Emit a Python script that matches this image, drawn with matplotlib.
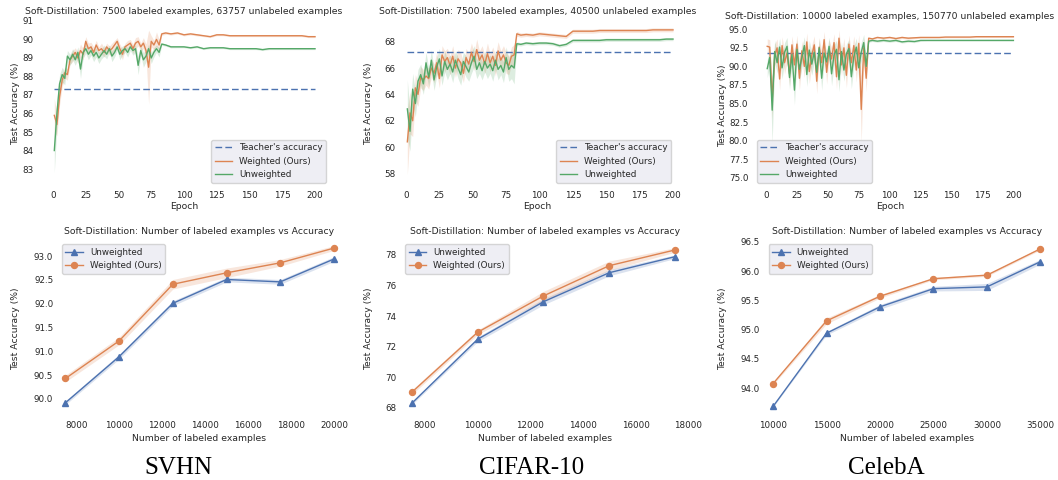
import matplotlib
matplotlib.use("Agg")
import matplotlib.pyplot as plt
import numpy as np

W, H = 1058, 480
plt.rcParams.update({
    "font.family": ["DejaVu Sans"],
    "text.color": ".15",
    "axes.labelcolor": ".15",
    "xtick.color": ".15",
    "ytick.color": ".15",
})

# ------------------------------------------------------------------ data
epochs = list(range(1, 82, 2)) + [83, 86] + list(range(90, 201, 5))
epoch_ticks = [0, 25, 50, 75, 100, 125, 150, 175, 200]

svhn_teacher = 87.3
svhn_weighted = [
    85.9, 85.4, 86.9, 87.8, 88.2, 88.1, 88.9, 89.1, 89.3, 89.0,
    89.4, 89.2, 89.9, 89.5, 89.6, 89.3, 89.7, 89.4, 89.5, 89.3,
    89.6, 89.4, 89.5, 89.7, 89.9, 89.5, 89.2, 89.6, 89.7, 89.8,
    89.5, 89.8, 89.9, 89.6, 89.8, 89.4, 88.5, 89.9, 89.7, 90.0,
    89.7,
    90.3, 90.35, 90.3, 90.35, 90.25, 90.3, 90.25, 90.2, 90.15, 90.25,
    90.25, 90.2, 90.2, 90.2, 90.2, 90.2, 90.2, 90.2, 90.2, 90.2,
    90.2, 90.2, 90.2, 90.15, 90.15]
svhn_weighted_sd = [
    0.9, 0.6, 0.45, 0.35, 0.3, 0.3, 0.25, 0.3, 0.25, 0.3,
    0.35, 0.3, 0.25, 0.3, 0.25, 0.3, 0.25, 0.2, 0.3, 0.25,
    0.2, 0.25, 0.3, 0.25, 0.2, 0.25, 0.3, 0.2, 0.25, 0.2,
    0.25, 0.3, 0.25, 0.2, 0.3, 0.35, 2.0, 0.3, 0.25, 0.4,
    0.3,
    0.08, 0.07, 0.06, 0.06, 0.06, 0.06, 0.06, 0.05, 0.05, 0.05,
    0.05, 0.05, 0.05, 0.05, 0.05, 0.05, 0.05, 0.05, 0.05, 0.05,
    0.05, 0.05, 0.05, 0.05, 0.05]
svhn_unweighted = [
    84.0, 86.0, 87.6, 88.1, 87.9, 89.1, 88.9, 89.2, 88.9, 89.3,
    88.4, 89.3, 89.5, 89.2, 89.4, 89.1, 89.3, 89.0, 89.2, 89.4,
    89.2, 89.5, 89.1, 89.3, 89.6, 89.2, 89.4, 89.5, 89.3, 89.6,
    89.4, 89.5, 88.6, 89.4, 88.9, 89.1, 89.5, 89.0, 89.3, 89.5,
    89.3,
    89.75, 89.7, 89.6, 89.6, 89.6, 89.55, 89.6, 89.5, 89.55, 89.55,
    89.55, 89.5, 89.5, 89.5, 89.5, 89.5, 89.45, 89.5, 89.5, 89.5,
    89.5, 89.5, 89.5, 89.5, 89.5]
svhn_unweighted_sd = [
    1.2, 0.7, 0.5, 0.4, 0.35, 0.3, 0.3, 0.3, 0.3, 0.3,
    0.5, 0.3, 0.25, 0.3, 0.25, 0.3, 0.25, 0.3, 0.25, 0.3,
    0.25, 0.2, 0.3, 0.25, 0.2, 0.3, 0.25, 0.2, 0.25, 0.2,
    0.25, 0.2, 0.5, 0.25, 0.4, 0.3, 0.25, 0.3, 0.25, 0.2,
    0.25,
    0.07, 0.06, 0.06, 0.05, 0.05, 0.05, 0.05, 0.05, 0.05, 0.05,
    0.05, 0.05, 0.05, 0.05, 0.05, 0.05, 0.05, 0.05, 0.05, 0.05,
    0.05, 0.05, 0.05, 0.05, 0.05]

cifar_teacher = 67.2
cifar_weighted = [
    60.4, 62.6, 62.0, 64.5, 64.0, 65.3, 65.1, 65.4, 65.2, 66.0,
    65.6, 66.4, 65.2, 67.0, 66.5, 66.8, 66.2, 66.9, 66.0, 66.7,
    66.4, 65.6, 66.8, 66.3, 67.2, 66.5, 67.4, 66.6, 67.0, 66.3,
    67.1, 66.4, 66.9, 66.2, 67.3, 66.6, 67.0, 66.4, 66.2, 66.9,
    67.0,
    68.6, 68.5, 68.55, 68.5, 68.6, 68.55, 68.5, 68.45, 68.4, 68.8,
    68.8, 68.8, 68.8, 68.85, 68.85, 68.85, 68.85, 68.85, 68.85, 68.85,
    68.85, 68.9, 68.9, 68.9, 68.9]
cifar_weighted_sd = [
    2.5, 1.6, 1.2, 1.0, 0.9, 0.8, 0.8, 0.7, 0.8, 0.7,
    0.7, 0.8, 0.7, 0.7, 0.8, 0.7, 0.7, 0.8, 0.7, 0.7,
    0.8, 0.7, 0.7, 0.8, 0.7, 0.7, 0.8, 0.7, 0.7, 0.7,
    0.8, 0.7, 0.7, 0.8, 0.7, 0.7, 0.7, 0.8, 0.7, 0.7,
    0.8,
    0.18, 0.16, 0.15, 0.15, 0.15, 0.15, 0.15, 0.15, 0.15, 0.15,
    0.15, 0.15, 0.15, 0.15, 0.15, 0.15, 0.15, 0.15, 0.15, 0.15,
    0.15, 0.15, 0.15, 0.15, 0.15]
cifar_unweighted = [
    62.9, 61.2, 64.4, 63.3, 65.0, 65.5, 64.8, 66.4, 65.3, 66.6,
    65.1, 66.1, 66.7, 65.4, 66.5, 65.9, 66.3, 65.7, 66.6, 66.0,
    65.5, 66.5, 66.1, 65.7, 66.4, 66.9, 65.9, 66.4, 65.8, 66.5,
    66.0, 66.3, 65.8, 66.6, 65.9, 66.2, 65.7, 66.8, 65.9, 66.2,
    66.0,
    67.85, 67.8, 67.9, 67.85, 67.9, 67.9, 67.85, 67.7, 67.8, 68.1,
    68.1, 68.1, 68.1, 68.1, 68.15, 68.15, 68.15, 68.15, 68.15, 68.15,
    68.15, 68.15, 68.15, 68.2, 68.2]
cifar_unweighted_sd = [
    2.2, 1.5, 1.2, 1.0, 0.9, 0.8, 0.8, 0.8, 0.7, 0.8,
    0.8, 0.7, 0.8, 0.7, 0.8, 0.8, 0.7, 0.8, 0.7, 0.8,
    0.8, 0.7, 0.8, 0.7, 0.8, 0.8, 0.7, 0.8, 0.7, 0.8,
    0.8, 0.7, 0.8, 0.7, 0.8, 0.7, 0.8, 0.8, 0.9, 1.0,
    1.2,
    0.13, 0.12, 0.12, 0.12, 0.12, 0.12, 0.12, 0.12, 0.12, 0.12,
    0.12, 0.12, 0.12, 0.12, 0.12, 0.12, 0.12, 0.12, 0.12, 0.12,
    0.12, 0.12, 0.12, 0.12, 0.12]

celeba_teacher = 91.75
celeba_weighted = [
    92.7, 92.6, 85.4, 91.5, 92.5, 88.3, 92.8, 90.5, 91.8, 89.0,
    92.9, 90.2, 93.0, 88.4, 92.1, 90.0, 93.3, 89.3, 91.5, 92.9,
    88.0, 92.6, 90.5, 93.6, 89.2, 92.3, 91.0, 93.2, 88.6, 93.8,
    90.2, 92.5, 88.8, 93.0, 90.5, 92.8, 89.5, 93.1, 84.2, 92.5,
    88.4,
    93.8, 93.7, 93.9, 93.8, 93.9, 93.75, 93.9, 93.8, 93.85, 93.9,
    93.9, 93.9, 93.9, 93.95, 93.95, 93.95, 93.95, 93.95, 94.0, 94.0,
    94.0, 94.0, 94.0, 94.0, 94.0]
celeba_weighted_sd = [
    1.0, 1.0, 2.5, 1.5, 1.2, 1.5, 1.2, 1.5, 1.3, 1.6,
    1.2, 1.5, 1.2, 1.6, 1.3, 1.5, 1.2, 1.6, 1.4, 1.2,
    1.7, 1.3, 1.5, 1.1, 1.6, 1.3, 1.5, 1.2, 1.7, 1.1,
    1.5, 1.3, 1.7, 1.2, 1.5, 1.3, 1.6, 1.2, 4.5, 1.3,
    1.8,
    0.15, 0.15, 0.15, 0.15, 0.15, 0.15, 0.15, 0.15, 0.12, 0.1,
    0.1, 0.1, 0.1, 0.1, 0.1, 0.1, 0.1, 0.1, 0.1, 0.1,
    0.1, 0.1, 0.1, 0.1, 0.1]
celeba_unweighted = [
    89.7, 91.2, 84.1, 92.0, 90.5, 92.6, 89.8, 91.9, 92.7, 88.5,
    91.6, 86.8, 92.3, 89.6, 91.2, 92.8, 88.9, 92.2, 90.3, 91.9,
    89.2, 92.5, 88.4, 91.8, 90.6, 92.7, 89.0, 91.5, 92.3, 88.2,
    92.0, 89.5, 91.7, 92.4, 88.6, 91.3, 92.6, 89.8, 91.9, 93.2,
    90.0,
    93.4, 93.5, 93.4, 93.5, 93.4, 93.5, 93.3, 93.4, 93.35, 93.5,
    93.5, 93.5, 93.5, 93.5, 93.5, 93.5, 93.5, 93.5, 93.5, 93.5,
    93.5, 93.5, 93.5, 93.5, 93.5]
celeba_unweighted_sd = [
    1.2, 1.2, 4.5, 1.5, 1.4, 1.2, 1.5, 1.3, 1.2, 1.6,
    1.4, 2.0, 1.3, 1.5, 1.4, 1.2, 1.6, 1.3, 1.5, 1.3,
    1.5, 1.2, 1.6, 1.3, 1.4, 1.2, 1.6, 1.4, 1.2, 1.6,
    1.3, 1.5, 1.3, 1.2, 1.6, 1.4, 1.2, 1.5, 1.3, 1.1,
    1.4,
    0.15, 0.15, 0.15, 0.15, 0.15, 0.15, 0.15, 0.15, 0.15, 0.12,
    0.08, 0.08, 0.08, 0.08, 0.08, 0.08, 0.08, 0.08, 0.08, 0.08,
    0.08, 0.08, 0.08, 0.08, 0.08]

# bottom row: accuracy vs number of labeled examples
svhn_n = [7500, 10000, 12500, 15000, 17500, 20000]
svhn_n_unweighted = [89.92, 90.89, 92.01, 92.51, 92.46, 92.94]
svhn_n_unweighted_sd = [0.04, 0.05, 0.05, 0.05, 0.05, 0.05]
svhn_n_weighted = [90.43, 91.22, 92.41, 92.65, 92.86, 93.17]
svhn_n_weighted_sd = [0.07, 0.08, 0.1, 0.1, 0.07, 0.05]

cifar_n = [7500, 10000, 12500, 15000, 17500]
cifar_n_unweighted = [68.29, 72.48, 74.94, 76.84, 77.89]
cifar_n_unweighted_sd = [0.1, 0.15, 0.2, 0.2, 0.12]
cifar_n_weighted = [69.01, 72.94, 75.32, 77.30, 78.33]
cifar_n_weighted_sd = [0.15, 0.15, 0.3, 0.3, 0.15]

celeba_n = [10000, 15000, 20000, 25000, 30000, 35000]
celeba_n_unweighted = [93.69, 94.94, 95.39, 95.70, 95.73, 96.16]
celeba_n_unweighted_sd = [0.01, 0.03, 0.04, 0.04, 0.06, 0.04]
celeba_n_weighted = [94.08, 95.15, 95.57, 95.87, 95.93, 96.38]
celeba_n_weighted_sd = [0.02, 0.05, 0.03, 0.02, 0.02, 0.02]

titles_top = ["Soft-Distillation: 7500 labeled examples, 63757 unlabeled examples",
              "Soft-Distillation: 7500 labeled examples, 40500 unlabeled examples",
              "Soft-Distillation: 10000 labeled examples, 150770 unlabeled examples"]
title_bottom = "Soft-Distillation: Number of labeled examples vs Accuracy"
dataset_names = ["SVHN", "CIFAR-10", "CelebA"]

BLUE, ORANGE, GREEN = "#4C72B0", "#DD8452", "#55A868"
FS_TICK, FS_LAB, FS_TITLE = 6.3, 6.7, 6.7

fig = plt.figure(figsize=(W / 100, H / 100), dpi=100)
fig.patch.set_facecolor("white")


def make_axes(left, right, top, bottom):
    ax = fig.add_axes([left / W, 1 - bottom / H, (right - left) / W, (bottom - top) / H])
    ax.set_facecolor("white")
    for s in ax.spines.values():
        s.set_visible(False)
    ax.grid(False)
    ax.tick_params(length=0, pad=3, labelsize=FS_TICK)
    return ax


def finish(ax, box, title, xlabel, ylabel_cx, xlabel_cy, title_pad):
    left, right, top, bottom = box
    ax.set_title(title, fontsize=FS_TITLE, pad=title_pad)
    ax.set_xlabel(xlabel, fontsize=FS_LAB)
    ax.set_ylabel("Test Accuracy (%)", fontsize=FS_LAB)
    ax.yaxis.set_label_coords((ylabel_cx + 5.2 - left) / (right - left), 0.5)
    ax.xaxis.set_label_coords(0.5, -(xlabel_cy - 5.0 - bottom) / (bottom - top))


def style_legend(leg):
    fr = leg.get_frame()
    fr.set_facecolor("#EAEAF2")
    fr.set_edgecolor("0.8")
    fr.set_alpha(0.8)


top_specs = [
    dict(box=(37.5, 330.5, 20, 187), xlim=(-11.83, 211.83), ylim=(82.03, 91.05),
         yticks=[83, 84, 85, 86, 87, 88, 89, 90, 91],
         w=svhn_weighted, wsd=svhn_weighted_sd, u=svhn_unweighted, usd=svhn_unweighted_sd,
         teacher=svhn_teacher, loc="lower right", ylx=15, tpad=4),
    dict(box=(399.2, 675.8, 20, 187), xlim=(-5.09, 202.1), ylim=(56.97, 69.65),
         yticks=[58, 60, 62, 64, 66, 68],
         w=cifar_weighted, wsd=cifar_weighted_sd, u=cifar_unweighted, usd=cifar_unweighted_sd,
         teacher=cifar_teacher, loc="lower right", ylx=367.7, tpad=4),
    dict(box=(752.5, 1027.5, 24, 187), xlim=(-10.91, 211.4), ylim=(73.75, 95.71),
         yticks=[75.0, 77.5, 80.0, 82.5, 85.0, 87.5, 90.0, 92.5, 95.0],
         w=celeba_weighted, wsd=celeba_weighted_sd, u=celeba_unweighted, usd=celeba_unweighted_sd,
         teacher=celeba_teacher, loc="lower left", ylx=721.7, tpad=3.6),
]

for spec, title in zip(top_specs, titles_top):
    ax = make_axes(*spec["box"])
    ep = np.array(epochs)
    w = np.array(spec["w"]); wsd = np.array(spec["wsd"])
    u = np.array(spec["u"]); usd = np.array(spec["usd"])
    ax.plot([ep[0], ep[-1]], [spec["teacher"], spec["teacher"]], color=BLUE, lw=1.0,
            dashes=(4.8, 2.3), label="Teacher's accuracy")
    ax.fill_between(ep, w - wsd, w + wsd, color=ORANGE, alpha=0.2, lw=0)
    ax.plot(ep, w, color=ORANGE, lw=1.0, label="Weighted (Ours)")
    ax.fill_between(ep, u - usd, u + usd, color=GREEN, alpha=0.2, lw=0)
    ax.plot(ep, u, color=GREEN, lw=1.0, label="Unweighted")
    ax.set_xlim(*spec["xlim"]); ax.set_ylim(*spec["ylim"])
    ax.set_xticks(epoch_ticks); ax.set_yticks(spec["yticks"])
    leg = ax.legend(loc=spec["loc"], fontsize=FS_TICK, fancybox=True)
    style_legend(leg)
    finish(ax, spec["box"], title, "Epoch", spec["ylx"], 207, spec["tpad"])

bottom_specs = [
    dict(box=(57.5, 340.9, 240, 417), xlim=(7129, 20323), ylim=(89.62, 93.34),
         xticks=[8000, 10000, 12000, 14000, 16000, 18000, 20000],
         yticks=[90.0, 90.5, 91.0, 91.5, 92.0, 92.5, 93.0],
         x=svhn_n, u=svhn_n_unweighted, usd=svhn_n_unweighted_sd,
         w=svhn_n_weighted, wsd=svhn_n_weighted_sd, ylx=15),
    dict(box=(400.9, 689.0, 240, 417), xlim=(7085, 18026), ylim=(67.39, 78.98),
         xticks=[8000, 10000, 12000, 14000, 16000, 18000],
         yticks=[68, 70, 72, 74, 76, 78],
         x=cifar_n, u=cifar_n_unweighted, usd=cifar_n_unweighted_sd,
         w=cifar_n_weighted, wsd=cifar_n_weighted_sd, ylx=367.7),
    dict(box=(764.2, 1049.2, 240, 417), xlim=(9170, 35823), ylim=(93.51, 96.53),
         xticks=[10000, 15000, 20000, 25000, 30000, 35000],
         yticks=[94.0, 94.5, 95.0, 95.5, 96.0, 96.5],
         x=celeba_n, u=celeba_n_unweighted, usd=celeba_n_unweighted_sd,
         w=celeba_n_weighted, wsd=celeba_n_weighted_sd, ylx=721.7),
]

for spec in bottom_specs:
    ax = make_axes(*spec["box"])
    x = np.array(spec["x"])
    u = np.array(spec["u"]); usd = np.array(spec["usd"])
    w = np.array(spec["w"]); wsd = np.array(spec["wsd"])
    ax.fill_between(x, u - usd, u + usd, color=BLUE, alpha=0.2, lw=0)
    ax.plot(x, u, color=BLUE, lw=1.0, marker="^", ms=4.3, label="Unweighted")
    ax.fill_between(x, w - wsd, w + wsd, color=ORANGE, alpha=0.2, lw=0)
    ax.plot(x, w, color=ORANGE, lw=1.0, marker="o", ms=4.3, label="Weighted (Ours)")
    ax.set_xlim(*spec["xlim"]); ax.set_ylim(*spec["ylim"])
    ax.set_xticks(spec["xticks"]); ax.set_yticks(spec["yticks"])
    leg = ax.legend(loc="upper left", fontsize=FS_TICK, fancybox=True)
    style_legend(leg)
    finish(ax, spec["box"], title_bottom, "Number of labeled examples", spec["ylx"], 439, 4)

for name, cx in zip(dataset_names, [178.7, 531.7, 886.7]):
    fig.text(cx / W, 1 - 473.5 / H, name, ha="center", va="baseline",
             fontsize=18.0, family=["Liberation Serif", "DejaVu Serif"], color="black")

fig.savefig("out.png", dpi=100, facecolor="white")
